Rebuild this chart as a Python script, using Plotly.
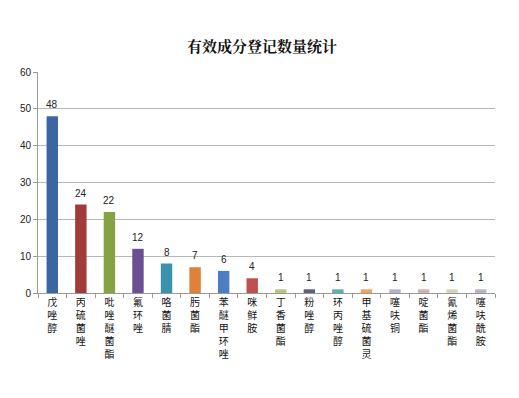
import plotly.graph_objects as go

categories = ["戊唑醇", "丙硫菌唑", "吡唑醚菌酯", "氟环唑", "咯菌腈", "肟菌酯", "苯醚甲环唑", "咪鲜胺",
              "丁香菌酯", "粉唑醇", "环丙唑醇", "甲基硫菌灵", "噻呋铜", "啶菌酯", "氰烯菌酯", "噻呋酰胺"]
values = [48, 24, 22, 12, 8, 7, 6, 4, 1, 1, 1, 1, 1, 1, 1, 1]
colors = ["#3A67A3", "#A03B39", "#87A242", "#6C4F93", "#3A93AC", "#DE823A", "#4B7EC4", "#C0504D",
          "#B7C480", "#5E5C8C", "#5BAFB6", "#F2A160", "#A9B4D6", "#D6B0AA", "#D2D6B4", "#B5B4C0"]
y_ticks = [0, 10, 20, 30, 40, 50, 60]

labels = ["<br>".join(list(c)) for c in categories]

fig = go.Figure(go.Bar(
    x=labels, y=values,
    marker=dict(color=colors, line=dict(width=0)),
    width=0.4,
))

for lab, v in zip(labels, values):
    fig.add_annotation(x=lab, y=v, text=str(v), showarrow=False, yanchor="bottom", yshift=4,
                       font=dict(size=10, color="#222222", family="Liberation Sans, Arial"))

fig.update_layout(
    width=511, height=390,
    margin=dict(l=14, r=24, t=64, b=105),
    paper_bgcolor="white", plot_bgcolor="white",
    title=dict(text="<b>有效成分登记数量统计</b>", x=0.497, xanchor="center", y=0.9, yanchor="middle",
               font=dict(size=15, color="#111111", family="Noto Serif CJK SC, Noto Sans CJK SC")),
    showlegend=False,
    font=dict(family="Noto Sans CJK SC", color="#222222"),
)
fig.update_yaxes(range=[0, 60], tickvals=y_ticks, showgrid=True, gridcolor="#B8B8B8", gridwidth=1,
                 showline=True, linecolor="#999999", ticks="outside", ticklen=4, tickcolor="#999999",
                 tickfont=dict(size=10, family="Liberation Sans, Arial", color="#222222"), zeroline=False)
fig.update_xaxes(showline=True, linecolor="#999999", ticks="outside", ticklen=4, tickcolor="#999999",
                 tickson="boundaries", tickangle=0,
                 tickfont=dict(size=10, family="Noto Sans CJK SC", color="#111111"))

fig.write_html("out.html")
